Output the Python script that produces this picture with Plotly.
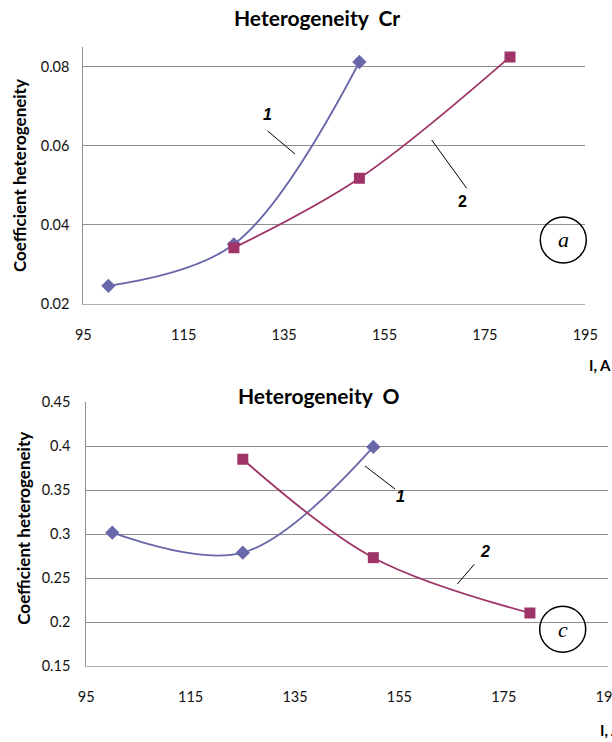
import plotly.graph_objects as go

# ---- data ----
current_1 = [100, 125, 150]
current_2 = [125, 150, 180]
cr_series1 = [0.0246, 0.0351, 0.0812]
cr_series2 = [0.0342, 0.0518, 0.0825]
o_series1 = [0.3015, 0.2788, 0.3989]
o_series2 = [0.3849, 0.2731, 0.2102]
x_ticks = [95, 115, 135, 155, 175, 195]
cr_ticks = [0.02, 0.04, 0.06, 0.08]
cr_tick_text = ["0.02", "0.04", "0.06", "0.08"]
o_ticks = [0.15, 0.2, 0.25, 0.3, 0.35, 0.4, 0.45]
o_tick_text = ["0.15", "0.2", "0.25", "0.3", "0.35", "0.4", "0.45"]

W, H = 612, 742
BLUE = "#6767AA"
MAG = "#9E3467"
GRID = "#8E8E8E"
FONT = "Lato"


def px(x):
    return x / W


def py(y):
    return 1 - y / H


fig = go.Figure()

fig.add_trace(go.Scatter(x=current_1, y=cr_series1, xaxis="x", yaxis="y",
                         marker=dict(symbol="diamond", size=11, color=BLUE),
                         line=dict(shape="spline", smoothing=1, width=1.8, color=BLUE),
                         mode="lines+markers", showlegend=False))
fig.add_trace(go.Scatter(x=current_2, y=cr_series2, xaxis="x", yaxis="y",
                         marker=dict(symbol="square", size=11, color=MAG),
                         line=dict(shape="spline", smoothing=1, width=1.8, color=MAG),
                         mode="lines+markers", showlegend=False))
fig.add_trace(go.Scatter(x=current_1, y=o_series1, xaxis="x2", yaxis="y2",
                         marker=dict(symbol="diamond", size=11, color=BLUE),
                         line=dict(shape="spline", smoothing=1, width=1.8, color=BLUE),
                         mode="lines+markers", showlegend=False))
fig.add_trace(go.Scatter(x=current_2, y=o_series2, xaxis="x2", yaxis="y2",
                         marker=dict(symbol="square", size=11, color=MAG),
                         line=dict(shape="spline", smoothing=1, width=1.8, color=MAG),
                         mode="lines+markers", showlegend=False))

tickfont = dict(family=FONT, size=14.5, color="#111111")

xcommon = dict(range=[95, 195], tickvals=x_ticks, showgrid=False, zeroline=False,
               showline=True, linecolor="#B0B0B0", linewidth=1, ticks="",
               ticklabelstandoff=18, tickfont=tickfont, fixedrange=True, automargin=False,
               ticklabeloverflow="allow")
ycommon = dict(showgrid=True, gridcolor=GRID, gridwidth=1, zeroline=False,
               showline=True, linecolor=GRID, linewidth=1, ticks="",
               tickfont=tickfont, fixedrange=True, automargin=False)

fig.update_layout(
    width=W, height=H,
    margin=dict(l=0, r=0, t=0, b=0, pad=0, autoexpand=False),
    paper_bgcolor="white", plot_bgcolor="white",
    xaxis=dict(domain=[px(83.3), px(585.3)], anchor="y", **xcommon),
    yaxis=dict(domain=[py(304), py(47)], anchor="x", range=[0.02, 0.085],
               tickvals=cr_ticks, ticktext=cr_tick_text, ticklabelstandoff=10, **ycommon),
    xaxis2=dict(domain=[px(86.2), px(608.2)], anchor="y2", **xcommon),
    yaxis2=dict(domain=[py(666), py(402)], anchor="x2", range=[0.15, 0.45],
                tickvals=o_ticks, ticktext=o_tick_text, ticklabelstandoff=12, **ycommon),
)

ann = []


def text(x, y, s, size=14, bold=True, italic=False, xanchor="center", angle=0, family=FONT):
    t = s
    if bold:
        t = "<b>" + t + "</b>"
    if italic:
        t = "<i>" + t + "</i>"
    ann.append(dict(x=px(x), y=py(y), xref="paper", yref="paper", text=t, showarrow=False,
                    xanchor=xanchor, yanchor="middle", textangle=angle,
                    font=dict(family=family, size=size, color="black")))


# titles
text(317, 17, "Heterogeneity  Cr", size=21)
text(318.8, 395, "Heterogeneity  O", size=21)
# y axis titles
text(19, 176, "Coefficient heterogeneity", size=17, angle=-90)
text(22.7, 528, "Coefficient heterogeneity", size=17, angle=-90)
# x axis titles
text(587, 365, "I, A", size=15, xanchor="left")
text(598, 730, "I, A", size=15, xanchor="left")
# curve labels
text(267, 115, "1", size=16, italic=True, family="Liberation Sans")
text(462, 201, "2", size=16, family="Liberation Sans")
text(400, 496, "1", size=16, italic=True, family="Liberation Sans")
text(485, 551.7, "2", size=16, italic=True, family="Liberation Sans")
# circle letters
text(563.3, 240, "a", size=22, bold=False, italic=True, family="Liberation Serif")
text(562.7, 629.3, "c", size=22, bold=False, italic=True, family="Liberation Serif")

shapes = []


def seg(x0, y0, x1, y1):
    shapes.append(dict(type="line", xref="paper", yref="paper",
                       x0=px(x0), y0=py(y0), x1=px(x1), y1=py(y1),
                       line=dict(color="black", width=1)))


def circ(cx, cy, r):
    shapes.append(dict(type="circle", xref="paper", yref="paper",
                       x0=px(cx - r), x1=px(cx + r), y0=py(cy + r), y1=py(cy - r),
                       line=dict(color="black", width=1.5), fillcolor="rgba(0,0,0,0)"))


seg(267.7, 131, 295, 154)
seg(431.7, 140, 466.7, 188.3)
seg(365, 466, 395, 489)
seg(474.3, 564.3, 457.3, 584)
circ(563.3, 240, 23)
circ(562.7, 629.3, 23)

fig.update_layout(annotations=ann, shapes=shapes)

fig.write_html("out.html")
